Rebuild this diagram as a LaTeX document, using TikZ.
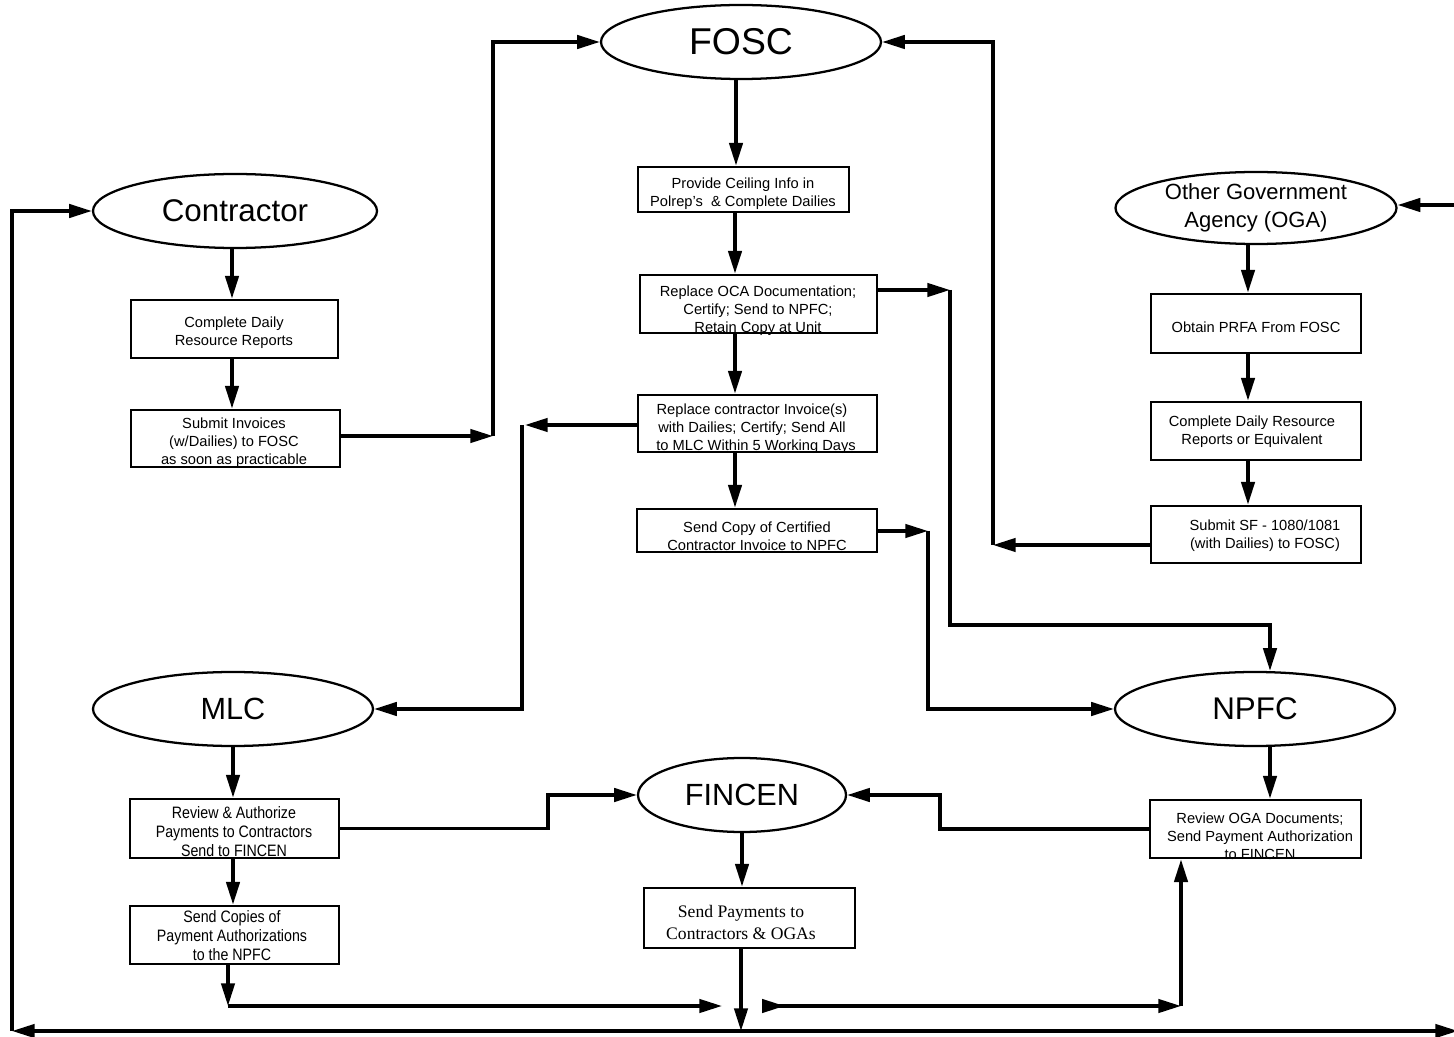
\documentclass[tikz,border=0pt]{standalone}
\usepackage{fontspec}
\setmainfont{Liberation Sans}
\newfontfamily\serifbox{Liberation Serif}
\newfontfamily\narrowsans[FakeStretch=0.86]{Liberation Sans}
\usetikzlibrary{shapes.geometric,arrows.meta}
\begin{document}
\begin{tikzpicture}[x=0.75pt,y=-0.75pt,
  >={Triangle[length=17pt,width=10pt]},
  ell/.style={draw, line width=1.7pt, ellipse, inner sep=0pt, align=center},
  bx/.style 2 args={draw, line width=2.1pt, minimum width=#1*0.75pt, minimum height=#2*0.75pt, inner sep=0pt},
  txt/.style={align=center, inner sep=0pt, font=\fontsize{11}{13.5}\selectfont},
  ntxt/.style={align=center, inner sep=0pt, font=\narrowsans\fontsize{12.4}{14.2}\selectfont},
  stxt/.style={align=center, inner sep=0pt, font=\serifbox\fontsize{13.2}{16.5}\selectfont},
  arr/.style={line width=2.5pt, ->},
]
\useasboundingbox (0,0) rectangle (1454,1037);

% ellipses
\node[ell, minimum width=280*0.75pt, minimum height=74*0.75pt, font=\fontsize{28}{30}\selectfont] (fosc) at (741,42) {FOSC};
\node[ell, minimum width=284*0.75pt, minimum height=74*0.75pt, font=\fontsize{23.5}{26}\selectfont] (contr) at (235,211) {Contractor};
\node[ell, minimum width=281*0.75pt, minimum height=72*0.75pt, font=\fontsize{16.5}{21}\selectfont] (oga) at (1256,208) {Other Government\\Agency (OGA)};
\node[ell, minimum width=280*0.75pt, minimum height=74*0.75pt, font=\fontsize{23}{26}\selectfont] (mlc) at (233,709) {MLC};
\node[ell, minimum width=280*0.75pt, minimum height=74*0.75pt, font=\fontsize{23.5}{26}\selectfont] (npfc) at (1255,709) {NPFC};
\node[ell, minimum width=208*0.75pt, minimum height=74*0.75pt, font=\fontsize{23}{26}\selectfont] (fincen) at (742,795) {FINCEN};

% box texts (drawn first so borders overlap them)
\node[txt] at (743,194) {Provide Ceiling Info in\\Polrep's\ \ \& Complete Dailies};
\node[txt] at (758,311) {Replace OCA Documentation;\\Certify; Send to NPFC;\\Retain Copy at Unit};
\node[txt] at (752,429) {Replace contractor Invoice(s)\\with Dailies; Certify; Send All\\\ \ to MLC Within 5 Working Days};
\node[txt] at (757,536) {Send Copy of Certified\\Contractor Invoice to NPFC};
\node[txt] at (234,333) {Complete Daily\\Resource Reports};
\node[txt] at (234,443) {Submit Invoices\\(w/Dailies) to FOSC\\as soon as practicable};
\node[txt] at (1256,327) {Obtain PRFA From FOSC};
\node[txt] at (1252,432) {Complete Daily Resource\\Reports or Equivalent};
\node[txt] at (1265,536) {Submit SF - 1080/1081\\(with Dailies) to FOSC)};
\node[ntxt] at (234,832) {Review \& Authorize\\Payments to Contractors\\Send to FINCEN};
\node[ntxt] at (232,936) {Send Copies of\\Payment Authorizations\\to the NPFC};
\node[stxt] at (741,922) {Send Payments to\\Contractors \& OGAs};
\node[txt] at (1260,836) {Review OGA Documents;\\Send Payment Authorization\\to FINCEN};

% boxes
\node[bx={211}{45}] (prov) at (743.5,189.5) {};
\node[bx={237}{58}] (oca) at (758.5,304) {};
\node[bx={239}{57}] (rc) at (757.5,423.5) {};
\node[bx={240}{43}] (scopy) at (757,530.5) {};
\node[bx={207}{58}] (cdr) at (234.5,329) {};
\node[bx={209}{57}] (sinv) at (235.5,438.5) {};
\node[bx={210}{59}] (prfa) at (1256,323.5) {};
\node[bx={210}{58}] (cdre) at (1256,431) {};
\node[bx={210}{57}] (sf) at (1256,534.5) {};
\node[bx={209}{59}] (ra) at (234.5,828.5) {};
\node[bx={209}{58}] (sc) at (234.5,935) {};
\node[bx={211}{60}] (sp) at (749.5,918) {};
\node[bx={211}{58}] (roga) at (1255.5,829) {};

% corner coordinates
\coordinate (k1) at (493,436);
\coordinate (k2) at (950,290);
\coordinate (k3) at (1270,625);
\coordinate (k4) at (928,531);
\coordinate (k5) at (522,425);
\coordinate (k6) at (993,545);
\coordinate (k7) at (1458,205);
\coordinate (k8) at (12,1031);
\coordinate (k9) at (1458,1031);
\coordinate (k10) at (741,1031);
\coordinate (k11) at (228,1006);
\coordinate (k12) at (722,1006);
\coordinate (k13) at (762,1006);
\coordinate (k14) at (1181,1006);
\coordinate (k16) at (548,795);
\coordinate (k17) at (940,795);

% vertical chains
\draw[arr] (fosc.south -| 736,0) -- (prov.north -| 736,0);
\draw[arr] (prov.south -| 735,0) -- (oca.north -| 735,0);
\draw[arr] (oca.south -| 735,0) -- (rc.north -| 735,0);
\draw[arr] (rc.south -| 735,0) -- (scopy.north -| 735,0);
\draw[arr] (contr.south -| 232,0) -- (cdr.north -| 232,0);
\draw[arr] (cdr.south -| 232,0) -- (sinv.north -| 232,0);
\draw[arr] (oga.south -| 1248,0) -- (prfa.north -| 1248,0);
\draw[arr] (prfa.south -| 1248,0) -- (cdre.north -| 1248,0);
\draw[arr] (cdre.south -| 1248,0) -- (sf.north -| 1248,0);
\draw[arr] (mlc.south) -- (mlc.south |- ra.north);
\draw[arr] (ra.south -| 233,0) -- (sc.north -| 233,0);
\draw[arr] (fincen.south) -- (fincen.south |- sp.north);
\draw[arr] (npfc.south -| 1270,0) -- (roga.north -| 1270,0);

% contractor invoices to FOSC
\draw[arr] (sinv.east |- k1) -- (k1);
\draw[arr] (k1) |- (fosc.west);
% OCA to NPFC
\draw[arr] (oca.east |- k2) -- (k2);
\draw[arr] (k2) |- (k3) -- (k3 |- npfc.north);
% certified copy to NPFC
\draw[arr] (scopy.east |- k4) -- (k4);
\draw[arr] (k4) |- (npfc.west);
% invoices to MLC
\draw[arr] (rc.west |- k5) -- ([xshift=2.25pt]k5);
\draw[arr] (k5) |- (mlc.east);
% OGA SF to FOSC
\draw[arr] (sf.west |- k6) -- (k6);
\draw[arr] (k6) |- (fosc.east);
% into OGA from right edge
\draw[arr] (k7) -- (k7 -| oga.east);
% left loop and bottom line
\draw[arr] (k8) |- (contr.west);
\draw[line width=2.5pt, <->] (k8) -- (k9);
% MLC to FINCEN
\draw[arr] (ra.east) -| (k16) -- (fincen.west);
% NPFC review to FINCEN
\draw[arr] (roga.west) -| (k17) -- (fincen.east);
% payments down to bottom line
\draw[arr] (sp.south -| k10) -- (k10);
% copies to bottom
\draw[arr] (sc.south -| k11) -- (k11);
\draw[arr] (k11) -- (k12);
\draw[line width=2.5pt, {Triangle[length=17pt,width=10pt,reversed]}->] (k13) -- (k14);
\draw[arr] (k14) -- (k14 |- roga.south);
\end{tikzpicture}
\end{document}
